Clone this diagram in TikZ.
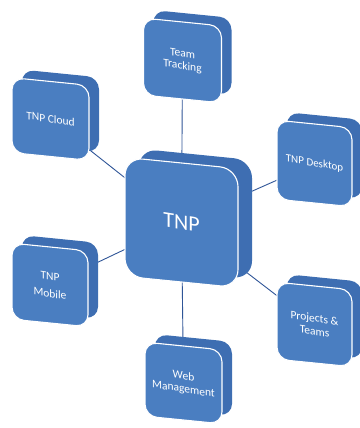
\documentclass[tikz,border=0pt]{standalone}
\usepackage{fontspec}
\setmainfont{Carlito}
\pgfdeclarelayer{background}
\pgfsetlayers{background,main}
\definecolor{frontblue}{RGB}{74,126,193}
\definecolor{backblue}{RGB}{62,110,178}
\definecolor{linkblue}{RGB}{47,85,151}
\tikzset{
  backface/.style={fill=backblue, draw=none, rounded corners=#1, inner sep=0pt},
  frontface/.style={fill=frontblue, draw=white, line width=1.1pt, rounded corners=#1, inner sep=0pt},
  boxtext/.style={text=white, align=center, inner sep=0pt, yslant=-0.06},
  link/.style={draw=linkblue, line width=0.9pt},
}
% name, cx, cy (y up), w, h, radius, dx, dy, text
\newcommand\tnpbox[9]{%
  \begin{scope}[shift={(#2,#3)}, yslant=-0.1]
    \node[backface=#6, minimum width=#4pt, minimum height=#5pt, transform shape] (#1-back) at (#7,#8) {};
    \node[frontface=#6, minimum width=#4pt, minimum height=#5pt, transform shape] (#1) at (0,0) {};
    \node[boxtext, transform shape] (#1-text) at (0,0) {#9};
  \end{scope}}
\newcommand\bigt{\fontsize{22}{24}\selectfont}
\newcommand\smt{\fontsize{11.5}{16}\selectfont}
\begin{document}
\begin{tikzpicture}[x=1pt,y=1pt]
\useasboundingbox (0,0) rectangle (359,428);
\tnpbox{tnp}{181.5}{205.5}{113}{119}{18pt}{14}{10}{\bigt TNP}
\tnpbox{track}{182.5}{367.5}{78}{77}{12pt}{10}{9}{\smt Team\\\smt Tracking}
\tnpbox{cloud}{50.5}{309}{77}{75}{12pt}{10}{9}{\smt TNP Cloud}
\tnpbox{desk}{314.5}{264.5}{75}{79}{12pt}{10}{9}{\fontsize{11}{14}\selectfont TNP Desktop}
\tnpbox{proj}{314.5}{103.5}{75}{77}{12pt}{10}{9}{\smt Projects \&\\[1pt]\smt Teams}
\tnpbox{web}{183.5}{45}{77}{74}{12pt}{10}{9}{\smt Web\\[1pt]\smt Management}
\tnpbox{mob}{50}{143}{76}{76}{12pt}{10}{9}{\smt TNP\\[5pt]\smt Mobile}
\begin{pgfonlayer}{background}
  \foreach \n in {track,cloud,desk,proj,web,mob}
    \draw[link] (tnp.center) -- (\n.center);
\end{pgfonlayer}
\end{tikzpicture}
\end{document}
